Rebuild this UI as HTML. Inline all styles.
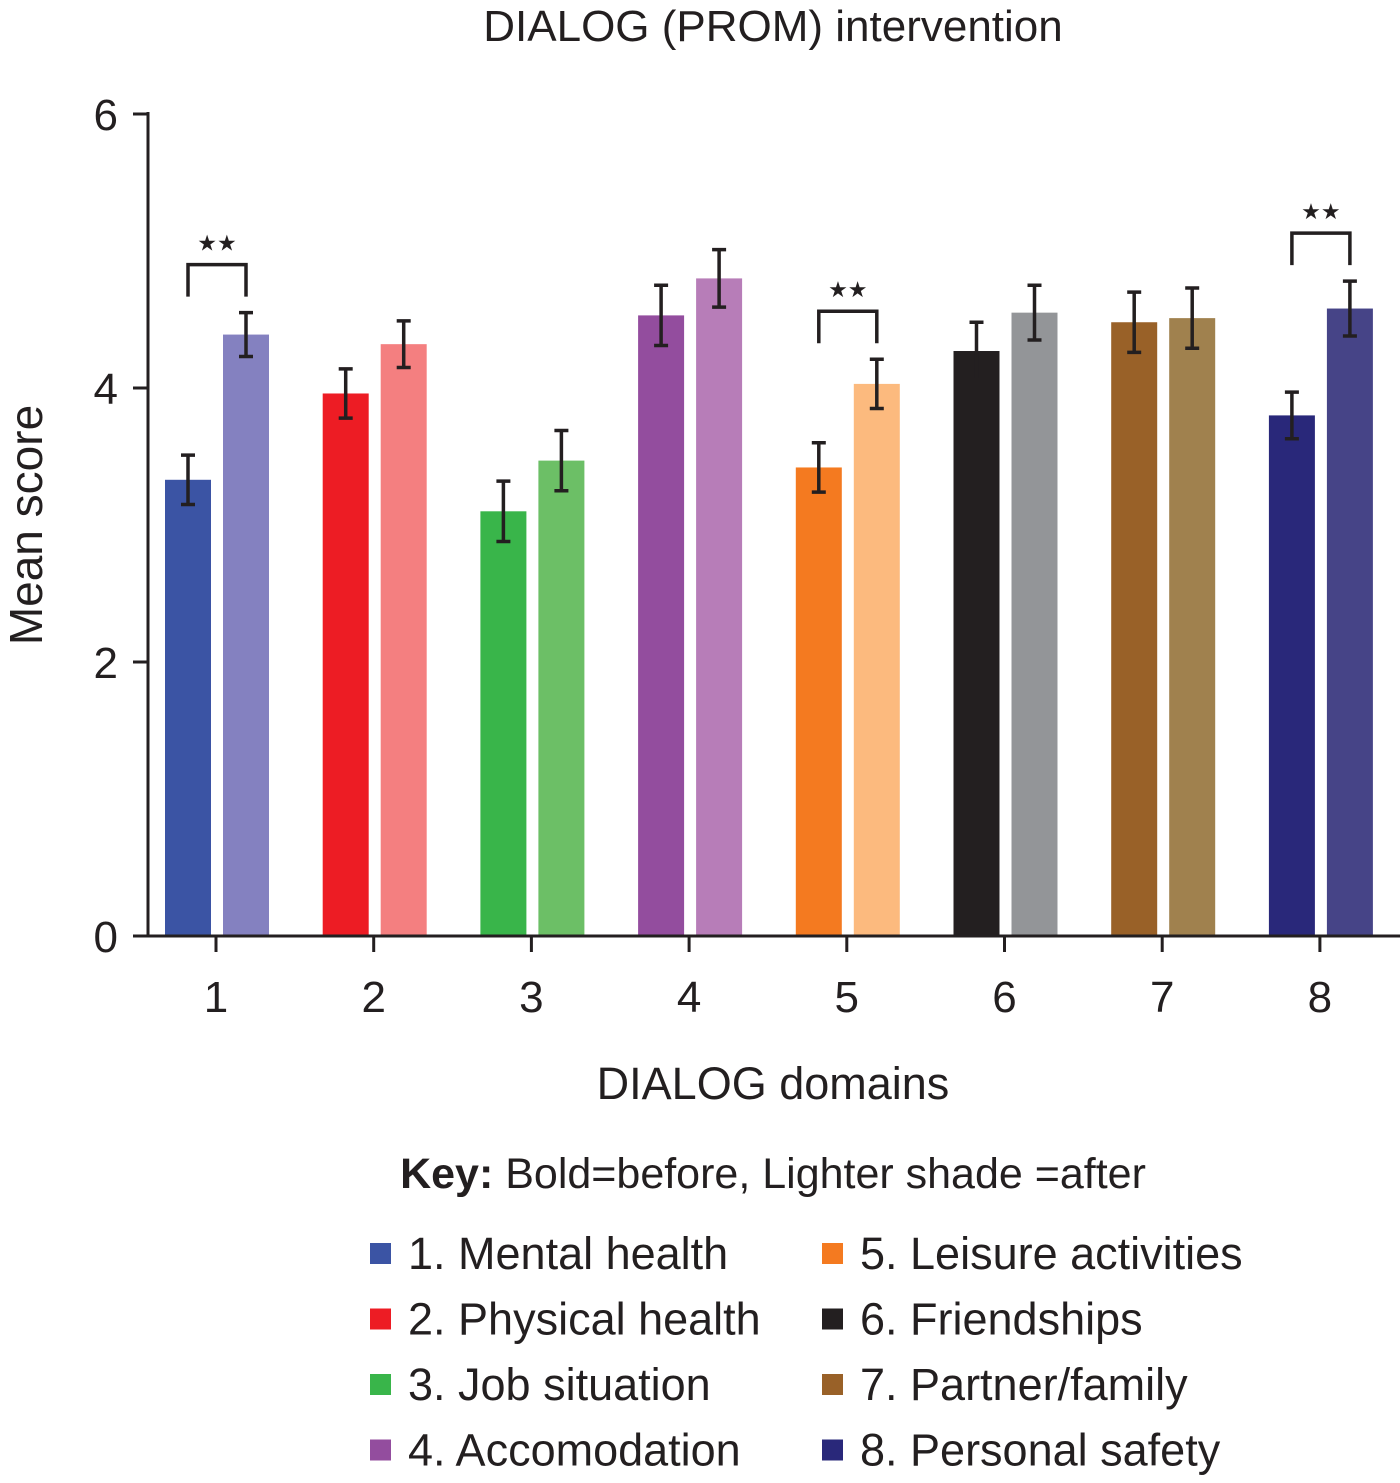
<!DOCTYPE html>
<html><head><meta charset="utf-8"><style>
body{margin:0;background:#fff;}
svg text{font-family:"Liberation Sans",sans-serif;fill:#231f20;}
</style></head><body>
<svg id="chart" width="1400" height="1478" xmlns="http://www.w3.org/2000/svg">
<text x="773" y="41" font-size="44" text-anchor="middle">DIALOG (PROM) intervention</text>
<text transform="translate(42,525) rotate(-90)" font-size="46" text-anchor="middle">Mean score</text>
<text x="773" y="1099" font-size="45" text-anchor="middle">DIALOG domains</text>
<text x="773" y="1188" font-size="43" text-anchor="middle"><tspan font-weight="bold">Key:</tspan> Bold=before, Lighter shade =after</text>
<g id="bars"></g><g id="axes"></g><g id="legend"></g>
</svg>
<script>
const categories=["1","2","3","4","5","6","7","8"];
const names=["1. Mental health","2. Physical health","3. Job situation","4. Accomodation","5. Leisure activities","6. Friendships","7. Partner/family","8. Personal safety"];
const before=[3.33,3.96,3.10,4.53,3.42,4.27,4.48,3.80];
const after=[4.39,4.32,3.47,4.80,4.03,4.55,4.51,4.58];
const beforeErr=[0.18,0.18,0.22,0.22,0.18,0.21,0.22,0.17];
const afterErr=[0.16,0.17,0.22,0.21,0.18,0.20,0.22,0.20];
const significant=[0,4,7];
const yTicks=[0,2,4,6];
const colB=["#3b54a4","#ed1c24","#39b54a","#934d9e","#f47a20","#231f20","#996128","#29287a"];
const colA=["#8481c0","#f47f80","#6cbf66","#b77db8","#fcba7e","#939598","#a0814e","#464487"];
const NS="http://www.w3.org/2000/svg";
const y=v=>936-v*137;
const x=i=>216+i*157.7;
function mk(tag,at,parent){const e=document.createElementNS(NS,tag);for(const k in at)e.setAttribute(k,at[k]);parent.appendChild(e);return e;}
const gb=document.getElementById('bars'),ga=document.getElementById('axes'),gl=document.getElementById('legend');
categories.forEach((c,i)=>{
  [[before[i],beforeErr[i],colB[i],-28,'before'],[after[i],afterErr[i],colA[i],30,'after']].forEach(([v,er,col,off,lab])=>{
    const cx=x(i)+off;
    const r=mk('rect',{x:cx-23,y:y(v),width:46,height:936-y(v),fill:col},gb);
    
    
    const eb=mk('path',{d:`M${cx},${y(v+er)}V${y(v-er)}M${cx-7},${y(v+er)}H${cx+7}M${cx-7},${y(v-er)}H${cx+7}`,stroke:'#231f20','stroke-width':3.5,fill:'none'},gb);
    
    
  });
  const t=mk('path',{d:`M${x(i)},936V952`,stroke:'#231f20','stroke-width':3},ga);
  
  
  const tl=mk('text',{x:x(i),y:1012,'font-size':44,'text-anchor':'middle'},ga);tl.textContent=c;
  
  
});
significant.forEach(i=>{
  const top=Math.min(y(before[i]+beforeErr[i]),y(after[i]+afterErr[i]))-48;
  const x1=x(i)-28,x2=x(i)+30;
  const b=mk('path',{d:`M${x1},${top+32}V${top}H${x2}V${top+32}`,stroke:'#231f20','stroke-width':3.5,fill:'none'},ga);
  
  
  const s=mk('text',{x:(x1+x2)/2,y:top-14,'font-size':22,'text-anchor':'middle'},ga);s.textContent='★★';
  
  
});
const ax=mk('path',{d:'M148,112V936H1400',stroke:'#231f20','stroke-width':3,fill:'none'},ga);


yTicks.forEach(v=>{
  const t=mk('path',{d:`M133,${y(v)}H148`,stroke:'#231f20','stroke-width':3},ga);
  
  
  const l=mk('text',{x:118,y:y(v)+16,'font-size':44,'text-anchor':'end'},ga);l.textContent=v;
  
  
});
names.forEach((n,i)=>{
  const col=i<4?0:1,row=i%4;
  const sx=col?822:370,sy=1243+row*65.5;
  const sq=mk('rect',{x:sx,y:sy,width:21,height:21,fill:colB[i]},gl);
  
  
  const t=mk('text',{x:sx+38,y:sy+26,'font-size':45},gl);t.textContent=n;
  
  
});
</script>
</body></html>
